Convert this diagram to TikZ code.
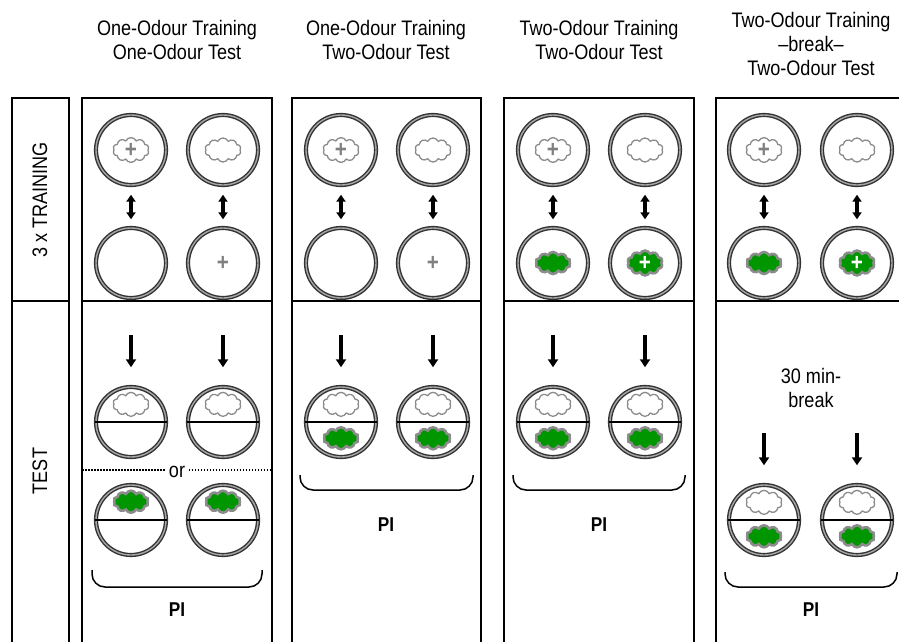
\documentclass[tikz,border=0pt]{standalone}
\usepackage{fontspec}
\setmainfont{Liberation Sans}[FakeStretch=0.86]
\usepackage{tikz}
\usetikzlibrary{shapes.symbols, positioning}
\usetikzlibrary{arrows.meta}
\definecolor{odourgreen}{RGB}{0,150,0}
\tikzset{>={Triangle[width=10pt,length=8pt]}}

\begin{document}
\begin{tikzpicture}[x=1pt, y=-1pt, font=\fontsize{21}{24}\selectfont,
    dish/.style={circle, draw=black!80, double=black!35, double distance=1.4pt, line width=1.4pt, minimum size=70pt, inner sep=0pt},
    odourA/.style={cloud, cloud puffs=10, cloud puff arc=130, aspect=1.5, draw=black!45, line width=1.3pt, fill=white, minimum width=36pt, minimum height=24pt, inner sep=0pt, font=\fontsize{24}{24}\selectfont\bfseries, text=black!50},
    odourB/.style={odourA, fill=odourgreen, line width=2.6pt, minimum width=35pt, minimum height=22pt, text=white},
    sugar/.style={font=\fontsize{24}{24}\selectfont\bfseries, text=black!50, inner sep=0pt},
    frame/.style={draw=black, line width=1.5pt},
    split/.style={draw=black, line width=1.4pt},
    swap/.style={<->, line width=3.5pt, >={Triangle[width=9pt,length=7pt]}, shorten <=9pt, shorten >=8pt},
    transfer/.style={->, line width=3.5pt, shorten >=19pt},
    orline/.style={line width=1.5pt, dash pattern=on 1.5pt off 1.5pt},
    brace/.style={line width=1.5pt, rounded corners=13pt},
    pinode/.style={font=\fontsize{20}{20}\selectfont\bfseries}]

    \useasboundingbox (0,0) rectangle (899,642);

    %Headers
    \node[align=center](head1) at (177,40){One-Odour Training\\One-Odour Test};
    \node[align=center](head2) at (386,40){One-Odour Training\\Two-Odour Test};
    \node[align=center](head3) at (599,40){Two-Odour Training\\Two-Odour Test};
    \node[align=center](head4) at (811,44){Two-Odour Training\\–break–\\Two-Odour Test};

    %Frames
    \draw[frame] (12,98) rectangle (69,645);
    \draw[frame] (12,301) -- (69,301);
    \node[rotate=90](train_text) at (40,200){3 x TRAINING};
    \node[rotate=90](test_text) at (40,471){TEST};
    \draw[frame] (82,98) rectangle (272,645);
    \draw[frame] (82,301) -- (272,301);
    \draw[frame] (292,98) rectangle (481,645);
    \draw[frame] (292,301) -- (481,301);
    \draw[frame] (504,98) rectangle (694,645);
    \draw[frame] (504,301) -- (694,301);
    \draw[frame] (716,98) rectangle (905,645);
    \draw[frame] (716,301) -- (905,301);

    %Column 1
    \node[dish](a1) at (131,150){};
    \node[dish](b1) at (223,150){};
    \node[dish](c1) at (131,263){};
    \node[dish](d1) at (223,263){};
    \node[odourA](a1_odour) at (a1){+};
    \node[odourA](b1_odour) at (b1){};
    \node[sugar](d1_sugar) at (d1){+};
    \draw[swap] (a1) -- (c1);
    \draw[swap] (b1) -- (d1);
    \coordinate (e1_in) at (131,335);
    \coordinate (f1_in) at (223,335);
    \node[dish](e1) at (131,422){};
    \node[dish](f1) at (223,422){};
    \node[dish](g1) at (131,520){};
    \node[dish](h1) at (223,520){};
    \draw[split] (e1.west) -- (e1.east);
    \draw[split] (f1.west) -- (f1.east);
    \draw[split] (g1.west) -- (g1.east);
    \draw[split] (h1.west) -- (h1.east);
    \node[odourA](e1_odour)[above=5pt of e1.center]{};
    \node[odourA](f1_odour)[above=5pt of f1.center]{};
    \node[odourB](g1_odour)[above=6pt of g1.center]{};
    \node[odourB](h1_odour)[above=6pt of h1.center]{};
    \draw[transfer] (e1_in) -- (e1);
    \draw[transfer] (f1_in) -- (f1);
    \node(or1) at (177,472){or};
    \coordinate (or1_left) at (82,470);
    \coordinate (or1_right) at (272,470);
    \draw[orline] (or1_left) -- (or1.west |- or1_left);
    \draw[orline] (or1.east |- or1_right) -- (or1_right);
    \draw[brace] (92,570) -- (92,587) -- (262,587) -- (262,570);
    \node[pinode](pi1) at (177,610){PI};

    %Column 2
    \node[dish](a2) at (341,150){};
    \node[dish](b2) at (433,150){};
    \node[dish](c2) at (341,263){};
    \node[dish](d2) at (433,263){};
    \node[odourA](a2_odour) at (a2){+};
    \node[odourA](b2_odour) at (b2){};
    \node[sugar](d2_sugar) at (d2){+};
    \draw[swap] (a2) -- (c2);
    \draw[swap] (b2) -- (d2);
    \coordinate (e2_in) at (341,335);
    \coordinate (f2_in) at (433,335);
    \node[dish](e2) at (341,422){};
    \node[dish](f2) at (433,422){};
    \draw[split] (e2.west) -- (e2.east);
    \draw[split] (f2.west) -- (f2.east);
    \node[odourA](e2_top)[above=5pt of e2.center]{};
    \node[odourA](f2_top)[above=5pt of f2.center]{};
    \node[odourB](e2_bottom)[below=4pt of e2.center]{};
    \node[odourB](f2_bottom)[below=4pt of f2.center]{};
    \draw[transfer] (e2_in) -- (e2);
    \draw[transfer] (f2_in) -- (f2);
    \draw[brace] (300,475) -- (300,490) -- (473,490) -- (473,475);
    \node[pinode](pi2) at (386,525){PI};

    %Column 3
    \node[dish](a3) at (553,150){};
    \node[dish](b3) at (645,150){};
    \node[dish](c3) at (553,263){};
    \node[dish](d3) at (645,263){};
    \node[odourA](a3_odour) at (a3){+};
    \node[odourA](b3_odour) at (b3){};
    \node[odourB](c3_odour) at (c3){};
    \node[odourB](d3_odour) at (d3){+};
    \draw[swap] (a3) -- (c3);
    \draw[swap] (b3) -- (d3);
    \coordinate (e3_in) at (553,335);
    \coordinate (f3_in) at (645,335);
    \node[dish](e3) at (553,422){};
    \node[dish](f3) at (645,422){};
    \draw[split] (e3.west) -- (e3.east);
    \draw[split] (f3.west) -- (f3.east);
    \node[odourA](e3_top)[above=5pt of e3.center]{};
    \node[odourA](f3_top)[above=5pt of f3.center]{};
    \node[odourB](e3_bottom)[below=4pt of e3.center]{};
    \node[odourB](f3_bottom)[below=4pt of f3.center]{};
    \draw[transfer] (e3_in) -- (e3);
    \draw[transfer] (f3_in) -- (f3);
    \draw[brace] (513,475) -- (513,490) -- (685,490) -- (685,475);
    \node[pinode](pi3) at (599,525){PI};

    %Column 4
    \node[dish](a4) at (764,150){};
    \node[dish](b4) at (857,150){};
    \node[dish](c4) at (764,263){};
    \node[dish](d4) at (857,263){};
    \node[odourA](a4_odour) at (a4){+};
    \node[odourA](b4_odour) at (b4){};
    \node[odourB](c4_odour) at (c4){};
    \node[odourB](d4_odour) at (d4){+};
    \draw[swap] (a4) -- (c4);
    \draw[swap] (b4) -- (d4);
    \node[align=center](break_text) at (811,388){30 min-\\break};
    \coordinate (e4_in) at (764,433);
    \coordinate (f4_in) at (857,433);
    \node[dish](e4) at (764,520){};
    \node[dish](f4) at (857,520){};
    \draw[split] (e4.west) -- (e4.east);
    \draw[split] (f4.west) -- (f4.east);
    \node[odourA](e4_top)[above=5pt of e4.center]{};
    \node[odourA](f4_top)[above=5pt of f4.center]{};
    \node[odourB](e4_bottom)[below=4pt of e4.center]{};
    \node[odourB](f4_bottom)[below=4pt of f4.center]{};
    \draw[transfer] (e4_in) -- (e4);
    \draw[transfer] (f4_in) -- (f4);
    \draw[brace] (725,572) -- (725,587) -- (897,587) -- (897,572);
    \node[pinode](pi4) at (811,610){PI};

\end{tikzpicture}
\end{document}
